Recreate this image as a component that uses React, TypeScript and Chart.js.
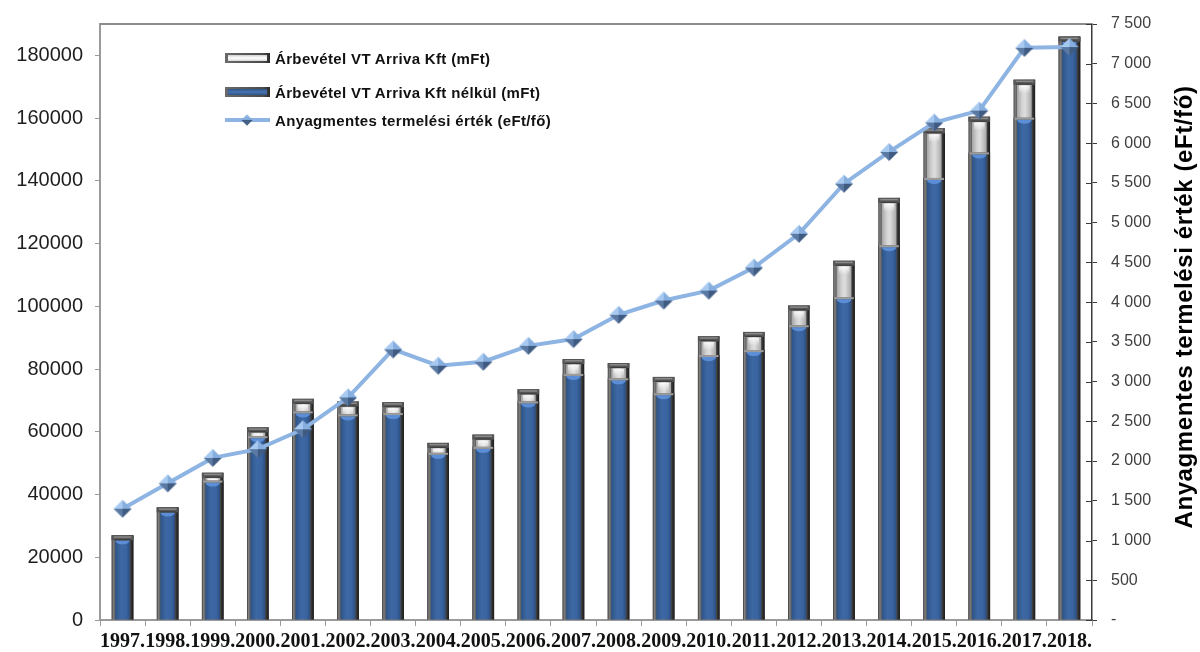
import React, { useEffect, useRef } from 'react';
import { Chart, registerables } from 'chart.js';

Chart.register(...registerables);

// ---- data ----
const years = ['1997.', '1998.', '1999.', '2000.', '2001.', '2002.', '2003.', '2004.', '2005.', '2006.', '2007.', '2008.', '2009.', '2010.', '2011.', '2012.', '2013.', '2014.', '2015.', '2016.', '2017.', '2018.'];
const revenueTotal = [27000, 35900, 46960, 61430, 70520, 69670, 69440, 56470, 59120, 73560, 83190, 81920, 77490, 90470, 91830, 100290, 114540, 134580, 156750, 160460, 172270, 185980];
const revenueWithoutArriva = [27000, 35900, 44450, 58600, 66500, 65550, 65970, 53300, 55200, 69670, 78440, 77050, 72300, 84460, 86040, 93960, 102920, 119480, 140920, 149060, 160140, 185980];
const productivity = [1400, 1720, 2040, 2150, 2400, 2800, 3405, 3200, 3250, 3450, 3535, 3840, 4020, 4145, 4435, 4860, 5490, 5890, 6260, 6410, 7200, 7210];
const leftTicks = [0, 20000, 40000, 60000, 80000, 100000, 120000, 140000, 160000, 180000];
const leftMax = 190000;
const rightMax = 7500;
const rightStep = 500;

const labelTotal = 'Árbevétel VT Arriva Kft (mFt)';
const labelWithout = 'Árbevétel VT Arriva Kft nélkül (mFt)';
const labelLine = 'Anyagmentes termelési érték (eFt/fő)';

function makeDiamond(): HTMLCanvasElement {
  const c = document.createElement('canvas');
  c.width = 20;
  c.height = 20;
  const g = c.getContext('2d')!;
  const cx = 10, cy = 10, r = 9;
  const tri = (pts: number[][], color: string) => {
    g.beginPath();
    g.moveTo(pts[0][0], pts[0][1]);
    g.lineTo(pts[1][0], pts[1][1]);
    g.lineTo(pts[2][0], pts[2][1]);
    g.closePath();
    g.fillStyle = color;
    g.fill();
  };
  tri([[cx, cy - r], [cx - r, cy], [cx, cy]], '#a9caf0');
  tri([[cx, cy - r], [cx + r, cy], [cx, cy]], '#86aede');
  tri([[cx - r, cy], [cx, cy + r], [cx, cy]], '#5a79a3');
  tri([[cx + r, cy], [cx, cy + r], [cx, cy]], '#3f5b82');
  return c;
}

function drawBar(ctx: CanvasRenderingContext2D, left: number, top: number, w: number, bottom: number, kind: string, darkCap: boolean) {
  const h = bottom - top;
  if (h <= 0) return;
  const fw = 3.5;
  // frame
  const g = ctx.createLinearGradient(left, 0, left + w, 0);
  g.addColorStop(0, '#3a3a3a');
  g.addColorStop(0.07, '#808080');
  g.addColorStop(0.16, '#5c5c5c');
  g.addColorStop(0.84, '#4a4a4a');
  g.addColorStop(0.93, '#2a2a2a');
  g.addColorStop(1, '#1c1c1c');
  ctx.fillStyle = g;
  ctx.fillRect(left, top, w, h);
  const capH = darkCap ? 5 : 2;
  const il = left + fw;
  const iw = w - 2 * fw;
  const it = top + capH;
  const ih = bottom - it;
  if (kind === 'total') {
    const gi = ctx.createLinearGradient(il, 0, il + iw, 0);
    gi.addColorStop(0, '#a4a4a4');
    gi.addColorStop(0.35, '#d4d4d4');
    gi.addColorStop(0.55, '#dedede');
    gi.addColorStop(1, '#a8a8a8');
    ctx.fillStyle = gi;
    ctx.fillRect(il, it, iw, ih);
    const gv = ctx.createLinearGradient(0, it, 0, it + 9);
    gv.addColorStop(0, 'rgba(255,255,255,0.95)');
    gv.addColorStop(1, 'rgba(255,255,255,0)');
    ctx.fillStyle = gv;
    ctx.fillRect(il + 2, it + 1, iw - 4, 8);
  } else {
    const gi = ctx.createLinearGradient(il, 0, il + iw, 0);
    gi.addColorStop(0, '#2e5487');
    gi.addColorStop(0.4, '#3d68a4');
    gi.addColorStop(0.75, '#3a64a0');
    gi.addColorStop(1, '#2b4e80');
    ctx.fillStyle = gi;
    ctx.fillRect(il, it, iw, ih);
    ctx.save();
    ctx.beginPath();
    ctx.rect(il, it, iw, ih);
    ctx.clip();
    ctx.beginPath();
    ctx.ellipse(il + iw / 2, it, iw / 2, 4, 0, 0, Math.PI * 2);
    ctx.fillStyle = '#5b8ed6';
    ctx.fill();
    ctx.restore();
  }
  // top cap
  if (darkCap) {
    ctx.fillStyle = '#555555';
    ctx.fillRect(left, top, w, capH);
    ctx.fillStyle = '#8a8a8a';
    ctx.fillRect(left + 2, top + 1, w - 4, 1.5);
    ctx.fillStyle = '#3a3a3a';
    ctx.fillRect(left + 3, top + capH - 1, w - 6, 1);
  } else {
    ctx.fillStyle = '#9c9c9c';
    ctx.fillRect(left + 1, top, w - 2, capH);
  }
}

const bevelBars = {
  id: 'bevelBars',
  beforeDatasetDraw(chart: any, args: any) {
    const ds = chart.data.datasets[args.index];
    if (ds.type !== 'bar') return;
    const ctx: CanvasRenderingContext2D = chart.ctx;
    const kind = ds.kindName;
    ctx.save();
    args.meta.data.forEach((el: any, i: number) => {
      const p = el.getProps(['x', 'y', 'base', 'width'], true);
      let darkCap = true;
      if (kind === 'blue') {
        darkCap = revenueWithoutArriva[i] >= revenueTotal[i];
      }
      drawBar(ctx, p.x - p.width / 2, p.y, p.width, p.base, kind, darkCap);
    });
    ctx.restore();
    return false;
  },
  afterDraw(chart: any) {
    const ctx: CanvasRenderingContext2D = chart.ctx;
    const a = chart.chartArea;
    ctx.save();
    // top border
    ctx.strokeStyle = '#8c8c8c';
    ctx.lineWidth = 2;
    ctx.beginPath();
    ctx.moveTo(a.left, a.top);
    ctx.lineTo(a.right, a.top);
    ctx.stroke();
    // inner part of right-axis ticks (crossing ticks)
    const y1 = chart.scales.y1;
    ctx.strokeStyle = '#3a3a3a';
    ctx.lineWidth = 1;
    y1.ticks.forEach((t: any) => {
      const y = Math.round(y1.getPixelForValue(t.value)) + 0.5;
      ctx.beginPath();
      ctx.moveTo(a.right - 6, y);
      ctx.lineTo(a.right, y);
      ctx.stroke();
    });
    // right axis title
    ctx.translate(1185, 307);
    ctx.rotate(-Math.PI / 2);
    ctx.font = 'bold 24px "Liberation Sans", Arial, sans-serif';
    (ctx as any).letterSpacing = '0.6px';
    ctx.fillStyle = '#000000';
    ctx.textAlign = 'center';
    ctx.textBaseline = 'middle';
    ctx.fillText(labelLine, 0, 0);
    ctx.restore();
  },
};

const fmtSpace = (v: number) => (v === 0 ? '-' : String(v).replace(/\B(?=(\d{3})+(?!\d))/g, ' '));

export default function App() {
  const ref = useRef<HTMLCanvasElement>(null);

  useEffect(() => {
    const diamond = makeDiamond();
    const chart = new Chart(ref.current!, {
      type: 'bar',
      data: {
        labels: years,
        datasets: [
          {
            type: 'bar',
            label: labelTotal,
            kindName: 'total',
            data: revenueTotal,
            yAxisID: 'y',
            order: 2,
            grouped: false,
            backgroundColor: '#c8c8c8',
            barPercentage: 0.48,
            categoryPercentage: 1,
          } as any,
          {
            type: 'bar',
            label: labelWithout,
            kindName: 'blue',
            data: revenueWithoutArriva,
            yAxisID: 'y',
            order: 1,
            grouped: false,
            backgroundColor: '#3a64a0',
            barPercentage: 0.48,
            categoryPercentage: 1,
          } as any,
          {
            type: 'line',
            label: labelLine,
            data: productivity,
            yAxisID: 'y1',
            order: 0,
            borderColor: '#8db4e2',
            borderWidth: 4,
            tension: 0,
            pointStyle: diamond,
            pointRadius: 9,
            pointHoverRadius: 9,
          } as any,
        ],
      },
      options: {
        responsive: false,
        animation: false,
        events: [],
        layout: { padding: { top: 20, left: 0, right: 0, bottom: 0 } },
        plugins: {
          legend: { display: false },
          tooltip: { enabled: false },
          title: { display: false },
        },
        scales: {
          x: {
            type: 'category',
            offset: true,
            grid: { display: true, drawOnChartArea: false, offset: true, tickLength: 6, color: '#9a9a9a', lineWidth: 1 },
            border: { display: true, color: '#9a9a9a', width: 2 },
            ticks: {
              autoSkip: false,
              maxRotation: 0,
              minRotation: 0,
              padding: 4,
              color: '#111111',
              font: { family: '"Liberation Serif", "Times New Roman", serif', weight: 'bold', size: 20 },
            },
            afterFit: (s: any) => { s.height = 32; },
          },
          y: {
            type: 'linear',
            position: 'left',
            min: 0,
            max: leftMax,
            grid: { display: true, drawOnChartArea: false, tickLength: 5, color: '#9a9a9a' },
            border: { display: true, color: '#9a9a9a', width: 2 },
            ticks: {
              padding: 12,
              color: '#1e1e1e',
              font: { family: '"Liberation Sans", Arial, sans-serif', size: 20 },
              callback: (v: any) => String(v),
            },
            afterBuildTicks: (s: any) => { s.ticks = leftTicks.map((v) => ({ value: v })); },
            afterFit: (s: any) => { s.width = 100; },
          },
          y1: {
            type: 'linear',
            position: 'right',
            min: 0,
            max: rightMax,
            grid: { display: true, drawOnChartArea: false, tickLength: 5, color: '#3a3a3a' },
            border: { display: true, color: '#3a3a3a', width: 1.5 },
            ticks: {
              stepSize: rightStep,
              padding: 14,
              color: '#404040',
              font: { family: '"Liberation Sans", Arial, sans-serif', size: 16 },
              callback: (v: any) => fmtSpace(Number(v)),
            },
            afterFit: (s: any) => { s.width = 108; },
          },
        },
      } as any,
      plugins: [bevelBars as any],
    });
    return () => chart.destroy();
  }, []);

  const legendFont: React.CSSProperties = {
    fontFamily: '"Liberation Sans", Arial, sans-serif',
    fontWeight: 'bold',
    fontSize: 15,
    letterSpacing: '0.35px',
    color: '#111',
    whiteSpace: 'nowrap',
    marginLeft: 5,
  };
  const row = (top: number): React.CSSProperties => ({
    position: 'absolute',
    left: 225,
    top: top - 10,
    height: 20,
    display: 'flex',
    alignItems: 'center',
  });
  const barMarker: React.CSSProperties = {
    width: 45,
    height: 10,
    boxSizing: 'border-box',
    padding: '2px 3px',
    background: 'linear-gradient(to right, #6a6a6a, #4a4a4a 85%, #2a2a2a)',
    display: 'flex',
  };

  return (
    <div style={{ position: 'fixed', left: 0, top: 0, width: 1200, height: 652, background: '#ffffff' }}>
      <canvas ref={ref} width={1200} height={652} style={{ display: 'block', width: 1200, height: 652 }} />
      <div style={row(58)}>
        <div style={barMarker}>
          <div style={{ flex: 1, background: 'linear-gradient(to bottom, #d0d0d0, #ffffff 50%, #d8d8d8)' }} />
        </div>
        <span style={legendFont}>{labelTotal}</span>
      </div>
      <div style={row(92)}>
        <div style={barMarker}>
          <div style={{ flex: 1, background: 'linear-gradient(to bottom, #2f5586, #4673b0 50%, #2f5586)' }} />
        </div>
        <span style={legendFont}>{labelWithout}</span>
      </div>
      <div style={row(120)}>
        <div style={{ width: 45, height: 20, position: 'relative' }}>
          <div style={{ position: 'absolute', left: 0, top: 8, width: 45, height: 4, background: '#8db4e2' }} />
          <div style={{ position: 'absolute', left: 18, top: 6, width: 8, height: 8, transform: 'rotate(45deg)', background: 'linear-gradient(135deg, #9cc0ea 0%, #7ea6d8 50%, #3f5b82 51%, #4c6a92 100%)' }} />
        </div>
        <span style={legendFont}>{labelLine}</span>
      </div>
    </div>
  );
}
